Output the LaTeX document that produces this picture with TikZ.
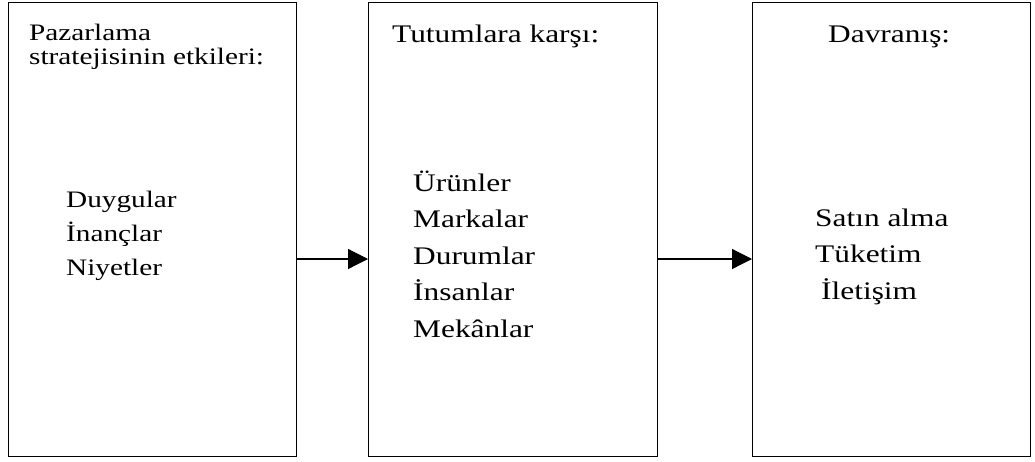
\documentclass[tikz,border=0pt]{standalone}
\usepackage{fontspec}
\setmainfont{Liberation Serif}[FakeStretch=1.24]
\usetikzlibrary{arrows.meta, positioning}

\begin{document}
\begin{tikzpicture}[x=1pt, y=-1pt,
			panel/.style={draw, rectangle, line width=1.2pt, anchor=north west, inner sep=0pt, minimum height=454pt},
			boxtext/.style 2 args={anchor=base west, align=left, inner sep=0pt, font=\fontsize{#1}{#2}\selectfont},
			arrow/.style={-{Triangle[length=20pt, width=20pt]}, line width=1.2pt}
			]
			\useasboundingbox (0,0) rectangle (1035,461);
			
			% Boxes
			\node[panel, minimum width=288pt] (strategy) at (8, 2) {};
			\node[panel, minimum width=289pt] (attitude) at (368, 2) {};
			\node[panel, minimum width=278pt] (behaviour) at (752, 2) {};
			
			% Headings (base = last line)
			\node[boxtext={23.6}{23.6}] (strategyhead) at (29, 64.3) {Pazarlama \\ stratejisinin etkileri:};
			\node[boxtext={25.3}{30}] (attitudehead) at (392, 42) {Tutumlara karşı:};
			\node[boxtext={25.3}{30}] (behaviourhead) at (828, 42) {Davranış:};
			
			% Lists
			\node[boxtext={23.6}{34}] (strategylist) at (66, 275) {Duygular \\ İnançlar \\ Niyetler};
			\node[boxtext={25.3}{36.5}] (attitudelist) at (413, 337) {Ürünler \\ Markalar \\ Durumlar \\ İnsanlar \\ Mekânlar};
			\node[boxtext={25.3}{36.5}] (behaviourlist) at (815, 299) {Satın alma \\ Tüketim \\ \hspace{6pt}İletişim};
			
			% Arrows
			\draw[arrow] (strategy.east |- 0,259) -- (attitude.west |- 0,259);
			\draw[arrow] (attitude.east |- 0,259) -- (behaviour.west |- 0,259);
		\end{tikzpicture}
\end{document}
